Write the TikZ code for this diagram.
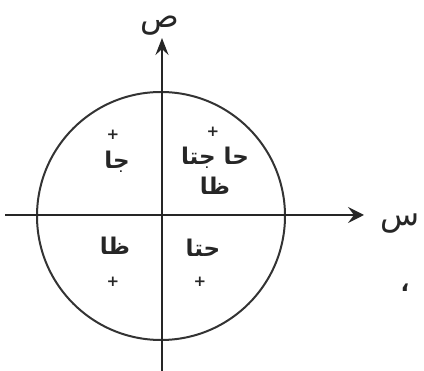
\documentclass[tikz,border=0pt]{standalone}
\usepackage{fontspec}
\newfontfamily\arabicfont[Script=Arabic]{DejaVu Sans}
\TeXXeTstate=1
\usetikzlibrary{arrows.meta}
\tikzset{
  axis/.style={line width=2.2pt, draw=black!85},
  ar/.style={font=\arabicfont\bfseries\fontsize{23}{25}\selectfont, inner sep=0pt, text=black!85},
  big/.style={font=\arabicfont\fontsize{32}{34}\selectfont, inner sep=0pt, text=black!85},
  plus/.style={font=\arabicfont\bfseries\fontsize{15}{15}\selectfont, inner sep=0pt, text=black!85},
}
\begin{document}
\begin{tikzpicture}[x=1pt,y=-1pt]
\useasboundingbox (0,0) rectangle (424,371);
\coordinate (O) at (161,216);
\draw[line width=2pt, draw=black!80] (O) circle[radius=124];
\coordinate (xl) at (5,215);
\coordinate (xr) at (364,215);
\coordinate (yb) at (162,371);
\coordinate (yt) at (162,38);
\draw[axis, -{Stealth[length=16pt,width=16pt,inset=6pt]}] (xl) -- (xr);
\draw[axis, -{Stealth[length=17pt,width=13pt,inset=6pt]}] (yb) -- (yt);
\node[big] (ys) at (160,26) {\beginR ص\endR};
\node[big] (xs) at (400,224) {\beginR س\endR};
\node[plus] (p2) at (113,135) {+};
\node[ar] (q2) at (117,162) {\beginR جا\endR};
\node[plus] (p1) at (213,132) {+};
\node[ar] (q1a) at (215,158) {\beginR حا جتا\endR};
\node[ar] (q1b) at (215,186) {\beginR ظا\endR};
\node[ar] (q3) at (115,246) {\beginR ظا\endR};
\node[plus] (p3) at (113,282) {+};
\node[ar] (q4) at (203,248) {\beginR حتا\endR};
\node[plus] (p4) at (200,282) {+};
\node[ar] (cm) at (405,288) {\beginR ،\endR};
\end{tikzpicture}
\end{document}
